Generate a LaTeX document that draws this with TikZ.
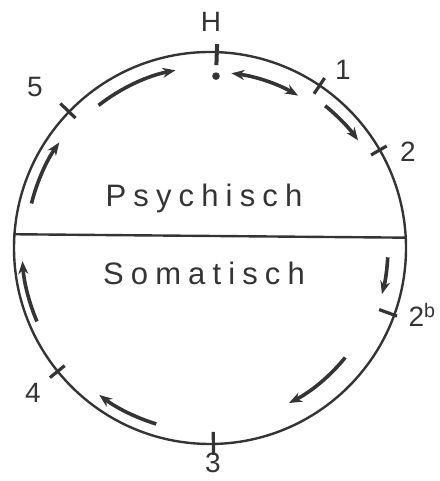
\documentclass[tikz,border=0pt]{standalone}
\usepackage{fontspec}
\setmainfont{Liberation Sans}
\usetikzlibrary{arrows.meta}
\definecolor{inkgray}{RGB}{52,52,52}
\tikzset{
  disc/.style={draw=inkgray, line width=2.4pt, circle, minimum size=392pt, inner sep=0pt},
  chord/.style={draw=inkgray, line width=2.4pt},
  tickmark/.style={draw=inkgray, line width=3.2pt},
  flow/.style={-{Stealth[length=13pt,width=10pt]}, line width=3.6pt, draw=inkgray},
  twoway/.style={{Stealth[length=13pt,width=10pt]}-{Stealth[length=13pt,width=10pt]}, line width=3.6pt, draw=inkgray},
  pointlabel/.style={font=\fontsize{28}{30}\selectfont, text=inkgray, inner sep=0pt},
  halflabel/.style={font=\fontsize{31}{34}\selectfont\addfontfeature{LetterSpace=23}, text=inkgray, anchor=base, inner sep=0pt}
}
\begin{document}
\begin{tikzpicture}[x=1pt, y=1pt]
  \useasboundingbox (0,0) rectangle (439,481);
  \node[disc] (wheel) at (210,233) {};
  \draw[chord] (wheel.176) -- (wheel.3);
  \node[halflabel] (psych) at (204,274) {Psychisch};
  \node[halflabel] (soma) at (204,196) {Somatisch};
  % marks on the circle
  \draw[tickmark, line width=4pt] ([shift={(88:183)}]wheel.center) -- ([shift={(88:204)}]wheel.center);
  \fill[inkgray] ([shift={(88:172)}]wheel.center) circle (3.8);
  \draw[tickmark] ([shift={(56:186)}]wheel.center) -- ([shift={(56:205)}]wheel.center);
  \draw[tickmark] ([shift={(30:186)}]wheel.center) -- ([shift={(30:204)}]wheel.center);
  \draw[tickmark] ([shift={(-20:180)}]wheel.center) -- ([shift={(-20:199)}]wheel.center);
  \draw[tickmark] ([shift={(-89:184)}]wheel.center) -- ([shift={(-89:207)}]wheel.center);
  \draw[tickmark] ([shift={(219:187)}]wheel.center) -- ([shift={(219:206)}]wheel.center);
  \draw[tickmark] ([shift={(136:187)}]wheel.center) -- ([shift={(136:208)}]wheel.center);
  \node[pointlabel] (hlabel) at (211,459) {H};
  \node[pointlabel] (one) at (343,411) {1};
  \node[pointlabel] (two) at (408,329) {2};
  \node[pointlabel] (twob) at (422,166) {2\textsuperscript{b}};
  \node[pointlabel] (three) at (213,18) {3};
  \node[pointlabel] (four) at (33,88) {4};
  \node[pointlabel] (five) at (35,394) {5};
  % direction of the cycle
  \draw[flow] ([shift={(128:181)}]wheel.center) arc[start angle=128, end angle=101, radius=181];
  \draw[flow] ([shift={(166:184)}]wheel.center) arc[start angle=166, end angle=145, radius=184];
  \draw[twoway] ([shift={(83:176)}]wheel.center) arc[start angle=83, end angle=60, radius=176];
  \draw[flow] ([shift={(51:183)}]wheel.center) arc[start angle=51, end angle=36, radius=183];
  \draw[flow] ([shift={(-3:178)}]wheel.center) arc[start angle=-3, end angle=-15, radius=178];
  \draw[flow] ([shift={(-39:174)}]wheel.center) arc[start angle=-39, end angle=-63, radius=174];
  \draw[flow] ([shift={(253:184)}]wheel.center) arc[start angle=253, end angle=233, radius=184];
  \draw[flow] ([shift={(203:188)}]wheel.center) arc[start angle=203, end angle=184, radius=188];
\end{tikzpicture}
\end{document}
